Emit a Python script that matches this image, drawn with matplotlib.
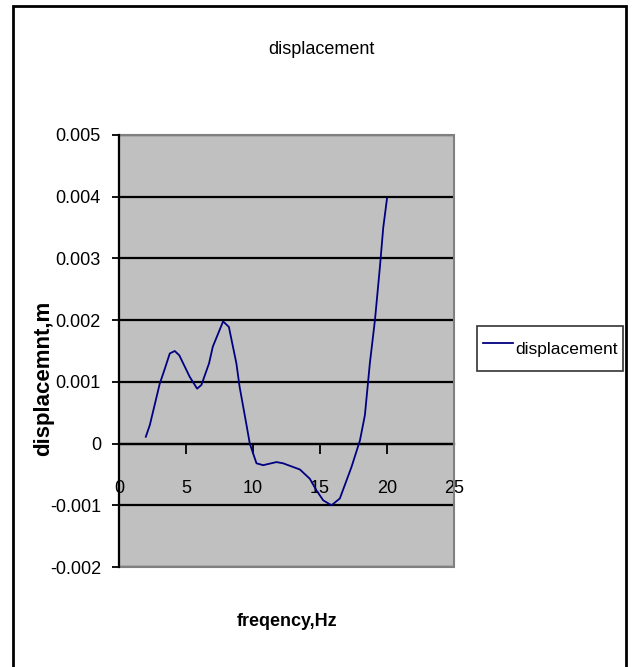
import matplotlib.pyplot as plt
from matplotlib.patches import Rectangle

plt.rcParams['font.family'] = ['Liberation Sans', 'DejaVu Sans']

# data (frequency in Hz, displacement in m)
freq = [2.0, 2.3, 3.04, 3.4, 3.79, 4.16, 4.5, 5.28, 5.83, 6.15, 6.72, 7.0,
        7.77, 8.2, 8.76, 9.0, 9.5, 9.76, 10.26, 10.76, 11.75, 12.25, 13.5,
        14.24, 14.74, 15.24, 15.86, 16.48, 17.35, 17.98, 18.35, 18.72, 19.1,
        19.47, 19.72, 20.0]
disp = [0.00011, 0.0003, 0.00097, 0.0012, 0.00146, 0.0015, 0.00143, 0.00108,
        0.00089, 0.00095, 0.0013, 0.00157, 0.00198, 0.00189, 0.0013, 0.00092,
        0.00032, 0.0, -0.00032, -0.00035, -0.0003, -0.00032, -0.00042,
        -0.00057, -0.00076, -0.00092, -0.001, -0.00089, -0.00038, 0.00005,
        0.00046, 0.0013, 0.002, 0.00286, 0.0035, 0.00397]

xticks = [0, 5, 10, 15, 20, 25]
yticks = [-0.002, -0.001, 0, 0.001, 0.002, 0.003, 0.004, 0.005]
ytick_labels = ['-0.002', '-0.001', '0', '0.001', '0.002', '0.003', '0.004', '0.005']

fig = plt.figure(figsize=(6.33, 6.67), dpi=100)
ax = fig.add_axes([119 / 633, 1 - 567 / 667, 335 / 633, 432 / 667])
ax.set_facecolor('#C0C0C0')

ax.plot(freq, disp, color='#000080', lw=1.3, label='displacement', zorder=4)

ax.set_xlim(0, 25)
ax.set_ylim(-0.002, 0.005)
ax.set_xticks(xticks)
ax.set_yticks(yticks)
ax.set_yticklabels(ytick_labels)

# horizontal grid lines
ax.set_axisbelow(True)
ax.grid(axis='y', color='black', lw=1.6)
ax.grid(axis='x', visible=False)

# plot area border, x axis sits on y = 0
ax.add_patch(Rectangle((0, 0), 1, 1, transform=ax.transAxes, fill=False,
                       edgecolor='#808080', lw=1.5, zorder=3, clip_on=False))
ax.spines['top'].set_visible(False)
ax.spines['right'].set_visible(False)
ax.spines['bottom'].set_position(('data', 0))
ax.spines['bottom'].set_linewidth(1.6)
ax.spines['left'].set_linewidth(1.6)
ax.spines['left'].set_zorder(5)

ax.tick_params(axis='x', direction='out', length=7, width=1.3, pad=19, labelsize=13)
ax.tick_params(axis='y', direction='out', length=5, width=1.3, pad=8, labelsize=13)

fig.text(321 / 633, 1 - 50 / 667, 'displacement', ha='center', va='center', fontsize=13)
fig.text(287 / 633, 1 - 622 / 667, 'freqency,Hz', ha='center', va='center',
         fontsize=13, fontweight='bold')
fig.text(44 / 633, 1 - 378 / 667, 'displacemnt,m', ha='center', va='center',
         fontsize=16, fontweight='bold', rotation=90)

leg = fig.legend(loc='center', bbox_to_anchor=(550 / 633, 1 - 348.5 / 667),
                 fontsize=12.5, frameon=True, fancybox=False, handlelength=1.75,
                 handleheight=2.5, borderpad=0.35, handletextpad=0.1,
                 borderaxespad=0)
leg.get_frame().set_edgecolor('black')
leg.get_frame().set_linewidth(1.2)

# outer chart border
fig.add_artist(Rectangle((13 / 633, -0.02), 613 / 633, 1.02 - 6 / 667,
                         transform=fig.transFigure, fill=False,
                         edgecolor='black', lw=2))

fig.savefig('out.png', dpi=100)
